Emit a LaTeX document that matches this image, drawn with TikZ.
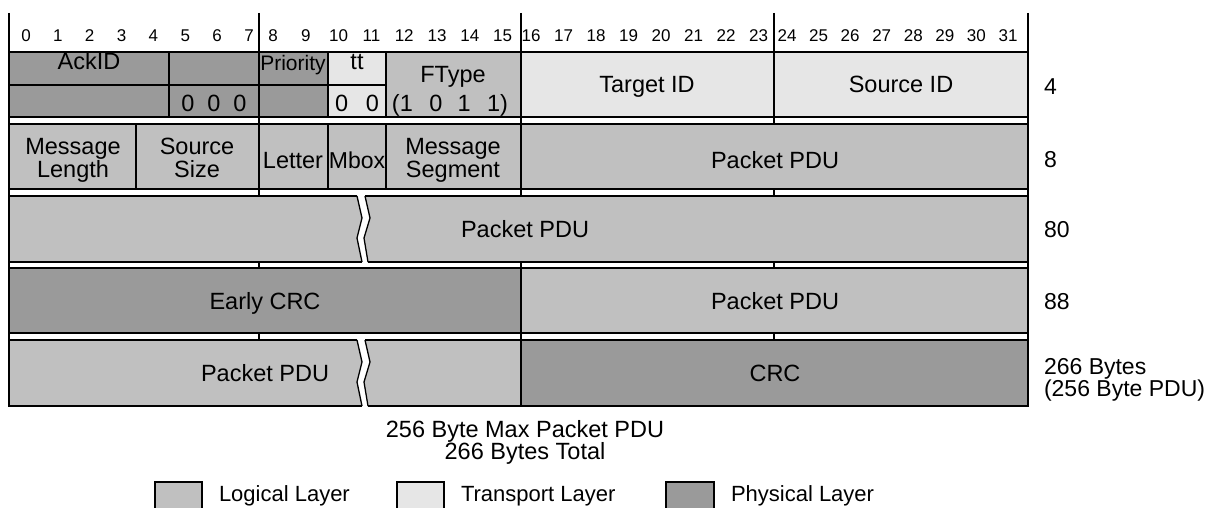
\documentclass[tikz,border=0pt]{standalone}
\usepackage{fontspec}
\setmainfont{Liberation Sans}
\definecolor{phys}{HTML}{9A9A9A}
\definecolor{logi}{HTML}{C0C0C0}
\definecolor{trans}{HTML}{E6E6E6}
\begin{document}
\begin{tikzpicture}[x=1pt,y=-1pt, line width=2pt,
  phy/.style={fill=phys,draw=black},
  log/.style={fill=logi,draw=black},
  tra/.style={fill=trans,draw=black},
  txt/.style={font=\fontsize{23.5}{23.5}\selectfont, inner sep=0pt, anchor=base},
  leg/.style={font=\fontsize{22}{22}\selectfont, inner sep=0pt, anchor=base west},
  bitnum/.style={font=\fontsize{17}{17}\selectfont, inner sep=0pt, anchor=base},
  side/.style={font=\fontsize{23}{23}\selectfont, inner sep=0pt, anchor=base west},
  brk/.style={line width=1.3pt}]
\useasboundingbox (0,0) rectangle (1214,508);
% byte boundary lines
\foreach \x in {9,259,521,774,1028} \draw (\x,13) -- (\x,406);
% bit numbers
\foreach \i in {0,...,7} \node[bitnum] (bn\i) at ({26+\i*31.86},42) {\i};
\foreach \i in {8,...,15} \node[bitnum] (bn\i) at ({273+(\i-8)*32.8},42) {\i};
\foreach \i in {16,...,23} \node[bitnum] (bn\i) at ({531+(\i-16)*32.5},42) {\i};
\foreach \i in {24,...,31} \node[bitnum] (bn\i) at ({787+(\i-24)*31.57},42) {\i};
% row 1
\draw[phy] (9,52) rectangle (169,85);
\draw[phy] (169,52) rectangle (259,85);
\draw[phy] (9,85) rectangle (169,117);
\draw[phy] (169,85) rectangle (259,117);
\draw[phy] (259,52) rectangle (328,85);
\draw[phy] (259,85) rectangle (328,117);
\draw[tra] (328,52) rectangle (386,85);
\draw[tra] (328,85) rectangle (386,117);
\draw[log] (386,52) rectangle (521,117);
\draw[tra] (521,52) rectangle (774,117);
\draw[tra] (774,52) rectangle (1028,117);
\node[txt] (ackid) at (89,70) {AckID};
\node[txt] (zeros3) at (214,111) {0\hspace{0.55em}0\hspace{0.55em}0};
\node[txt,font=\fontsize{21}{21}\selectfont] (prio) at (293,71) {Priority};
\node[txt] (tt) at (357,70) {tt};
\node[txt] (zeros2) at (357,111) {0\hspace{0.75em}0};
\node[txt] (ftype) at (453,83) {FType};
\node[txt] (ftypeval) at (450,111) {(1\hspace{0.7em}0\hspace{0.65em}1\hspace{0.7em}1)};
\node[txt] (target) at (647,93) {Target ID};
\node[txt] (source) at (901,93) {Source ID};
% row 2
\draw[log] (9,124) rectangle (136,189);
\draw[log] (136,124) rectangle (259,189);
\draw[log] (259,124) rectangle (328,189);
\draw[log] (328,124) rectangle (386,189);
\draw[log] (386,124) rectangle (521,189);
\draw[log] (521,124) rectangle (1028,189);
\node[txt] (ml1) at (73,154.5) {Message};
\node[txt] (ml2) at (73,177) {Length};
\node[txt] (ss1) at (197,154.5) {Source};
\node[txt] (ss2) at (197,177) {Size};
\node[txt] (letter) at (293,168) {Letter};
\node[txt,font=\fontsize{23}{23}\selectfont] (mbox) at (357,168) {Mbox};
\node[txt] (mseg1) at (453,154.5) {Message};
\node[txt] (mseg2) at (453,177) {Segment};
\node[txt] (pdu2) at (775,168) {Packet PDU};
% row 3
\fill[logi] (9,196) -- (357,196) -- (362,218) -- (357,238) -- (362,262) -- (9,262) -- cycle;
\draw (357,196) -- (9,196) -- (9,262) -- (362,262);
\draw[brk] (357,196) -- (362,218) -- (357,238) -- (362,262);
\fill[logi] (365,196) -- (1028,196) -- (1028,262) -- (368,262) -- (364,238) -- (370,218) -- cycle;
\draw (365,196) -- (1028,196) -- (1028,262) -- (368,262);
\draw[brk] (365,196) -- (370,218) -- (364,238) -- (368,262);
\node[txt] (pdu3) at (525,237) {Packet PDU};
% row 4
\draw[phy] (9,268) rectangle (521,333);
\draw[log] (521,268) rectangle (1028,333);
\node[txt] (ecrc) at (265,309) {Early CRC};
\node[txt] (pdu4) at (775,309) {Packet PDU};
% row 5
\fill[logi] (9,340) -- (357,340) -- (362,362) -- (357,382) -- (362,406) -- (9,406) -- cycle;
\draw (357,340) -- (9,340) -- (9,406) -- (362,406);
\draw[brk] (357,340) -- (362,362) -- (357,382) -- (362,406);
\fill[logi] (365,340) -- (521,340) -- (521,406) -- (368,406) -- (364,382) -- (370,362) -- cycle;
\draw (365,340) -- (521,340) -- (521,406) -- (368,406);
\draw[brk] (365,340) -- (370,362) -- (364,382) -- (368,406);
\draw[phy] (521,340) rectangle (1028,406);
\node[txt] (pdu5) at (265,381) {Packet PDU};
\node[txt] (crc) at (775,381) {CRC};
% side labels
\node[side] (s4) at (1043,95) {4};
\node[side] (s8) at (1043,167) {8};
\node[side] (s80) at (1043,237) {80};
\node[side] (s88) at (1043,309) {88};
\node[side] (s266a) at (1043,374) {266 Bytes};
\node[side] (s266b) at (1043,396.5) {(256 Byte PDU)};
% caption
\node[txt] (cap1) at (525,437) {256 Byte Max Packet PDU};
\node[txt] (cap2) at (525,459.5) {266 Bytes Total};
% legend
\draw[log] (155,482) rectangle (202,520);
\draw[tra] (397,482) rectangle (444,520);
\draw[phy] (666,482) rectangle (714,520);
\node[leg] (lg1) at (218,501) {Logical Layer};
\node[leg] (lg2) at (460,501) {Transport Layer};
\node[leg] (lg3) at (730,501) {Physical Layer};
\end{tikzpicture}
\end{document}
